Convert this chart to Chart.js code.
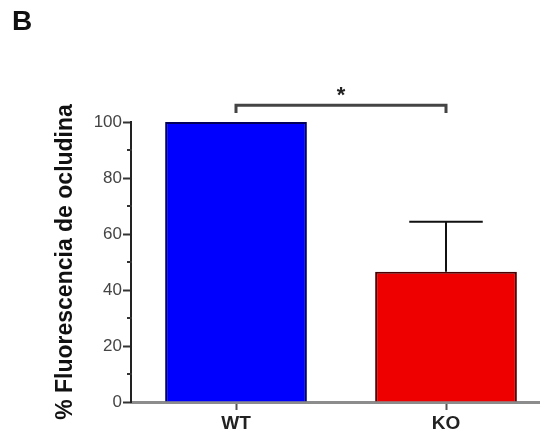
<!DOCTYPE html>
<html>
<head>
<meta charset="utf-8">
<script src="https://cdn.jsdelivr.net/npm/chart.js@4"></script>
<style>
  html, body { margin: 0; padding: 0; background: #fff; overflow: hidden; }
  #wrap { position: relative; width: 540px; height: 436px; overflow: hidden; }
  #panel { position: absolute; left: 12px; top: 5px; font: bold 28px "Liberation Sans", Arial, sans-serif; color: #111; }
  canvas { position: absolute; left: 0; top: 0; }
</style>
</head>
<body>
<div id="wrap">
  <canvas id="chart" width="556" height="436"></canvas>
  <div id="panel">B</div>
</div>
<script>
// data
const groups = ['WT', 'KO'];
const meanValues = [100, 46.5];
const semValues = [0, 17.9];
const yTicks = [0, 20, 40, 60, 80, 100];
const barColors = ['#0000ff', '#ee0000'];
const barEdges = ['#00005a', '#4a0000'];

// significance bracket between WT and KO
const bracketLevel = 106;
const bracketDrop = 103.2;
const starLevel = 111.6;
const starText = '*';

const font = '"Liberation Sans", Arial, sans-serif';

// error bars, minor ticks and the bracket
const extrasPlugin = {
    id: 'extras',
    afterDatasetsDraw(chart) {
        const ctx = chart.ctx;
        const x = chart.scales.x;
        const y = chart.scales.y;
        ctx.save();

        // SEM bars (upper only)
        ctx.strokeStyle = '#111';
        ctx.lineWidth = 2;
        meanValues.forEach((v, i) => {
            if (!semValues[i]) return;
            const cx = x.getPixelForValue(i);
            const top = y.getPixelForValue(v + semValues[i]);
            const base = y.getPixelForValue(v);
            const step = x.getPixelForTick(1) - x.getPixelForTick(0);
            const capHalf = step * 0.175;
            ctx.beginPath();
            ctx.moveTo(cx, base);
            ctx.lineTo(cx, top);
            ctx.moveTo(cx - capHalf, top);
            ctx.lineTo(cx + capHalf, top);
            ctx.stroke();
        });

        // minor ticks on y axis
        ctx.strokeStyle = '#333';
        ctx.lineWidth = 2;
        for (let v = 10; v < 100; v += 20) {
            const py = y.getPixelForValue(v);
            ctx.beginPath();
            ctx.moveTo(y.right - 4, py);
            ctx.lineTo(y.right + 1, py);
            ctx.stroke();
        }

        // bracket
        const x1 = x.getPixelForValue(0);
        const x2 = x.getPixelForValue(1);
        const by = y.getPixelForValue(bracketLevel);
        const bd = y.getPixelForValue(bracketDrop);
        ctx.strokeStyle = '#444';
        ctx.lineWidth = 3;
        ctx.beginPath();
        ctx.moveTo(x1, bd);
        ctx.lineTo(x1, by);
        ctx.lineTo(x2, by);
        ctx.lineTo(x2, bd);
        ctx.stroke();

        ctx.fillStyle = '#222';
        ctx.font = 'bold 22px ' + font;
        ctx.textAlign = 'center';
        ctx.textBaseline = 'middle';
        ctx.fillText(starText, (x1 + x2) / 2, y.getPixelForValue(starLevel) + 6);
        ctx.restore();
    }
};

document.addEventListener('DOMContentLoaded', () => {
    const ctx = document.getElementById('chart');

    new Chart(ctx, {
        type: 'bar',
        data: {
            labels: groups,
            datasets: [{
                data: meanValues,
                backgroundColor: barColors,
                borderColor: barEdges,
                borderWidth: 2,
                barPercentage: 0.675,
                categoryPercentage: 1
            }]
        },
        options: {
            responsive: false,
            animation: false,
            layout: { padding: { left: 0, top: 122, right: 5, bottom: 0 } },
            plugins: {
                legend: { display: false },
                tooltip: { enabled: false }
            },
            scales: {
                x: {
                    afterFit: (scale) => { scale.height = 34; },
                    grid: {
                        offset: false,
                        drawOnChartArea: false,
                        tickLength: 8,
                        tickWidth: 2,
                        color: '#555'
                    },
                    border: { color: '#8c8c8c', width: 3 },
                    ticks: {
                        padding: 2,
                        color: '#222',
                        font: { family: font, size: 19, weight: 'bold' }
                    }
                },
                y: {
                    min: 0,
                    max: 100,
                    afterFit: (scale) => { scale.width = 131; },
                    afterBuildTicks: (scale) => {
                        scale.ticks = yTicks.map(v => ({ value: v }));
                    },
                    grid: {
                        drawOnChartArea: false,
                        tickLength: 8,
                        tickWidth: 2,
                        color: '#333'
                    },
                    border: { color: '#222', width: 2 },
                    ticks: {
                        padding: 1,
                        color: '#444',
                        font: { family: font, size: 17 }
                    },
                    title: {
                        display: true,
                        text: '% Fluorescencia de ocludina',
                        color: '#111',
                        font: { family: font, size: 23, weight: 'bold' },
                        padding: { top: 52, bottom: 0 }
                    }
                }
            }
        },
        plugins: [extrasPlugin]
    });
});
</script>
</body>
</html>
